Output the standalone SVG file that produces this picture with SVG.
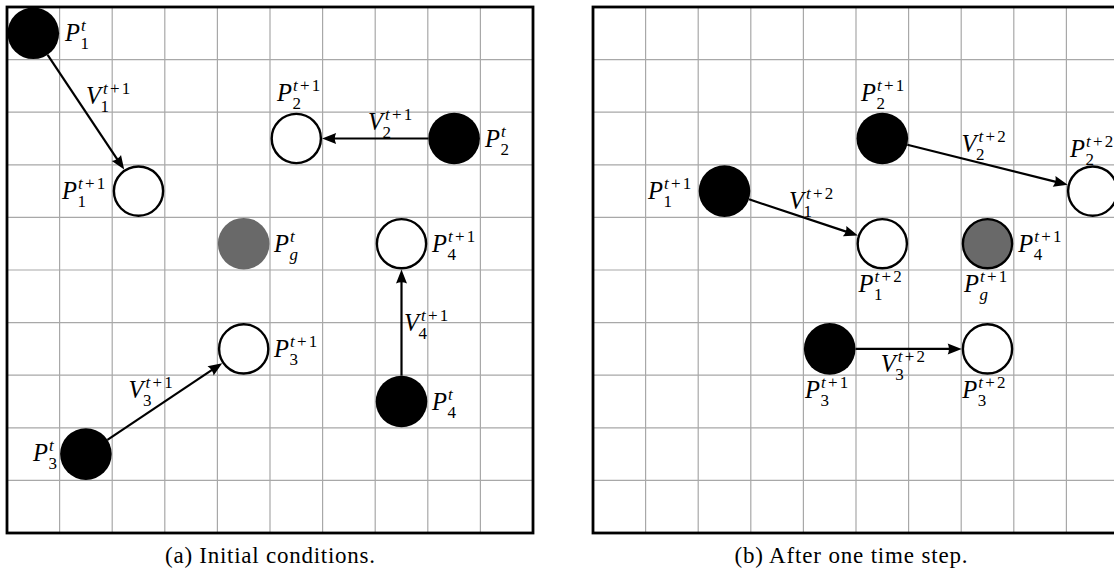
<svg xmlns="http://www.w3.org/2000/svg" width="1114" height="571" viewBox="0 0 1114 571">
<style>
.bg{fill:#fff}
.grid{fill:none;stroke:#a8a8a8;stroke-width:1.2}
.frame{fill:none;stroke:#000;stroke-width:2.8}
.cur{fill:#000}
.next{fill:#fff;stroke:#000;stroke-width:2.4}
.goal{fill:#696969}
.goal2{fill:#696969;stroke:#000;stroke-width:2.4}
.arr{fill:none;stroke:#000;stroke-width:2.2;marker-end:url(#ah)}
text{font-family:"Liberation Serif","Times New Roman",serif;fill:#000}
.m{font-size:24.5px;font-style:italic}
.s{font-size:17px}
.r{font-style:normal}
.cap{font-size:23px;font-style:normal;text-anchor:middle}
</style>
<defs>
<marker id="ah" markerUnits="userSpaceOnUse" markerWidth="16" markerHeight="12" viewBox="-15 -6 16 12" refX="-10" refY="0" orient="auto">
<path d="M0,0 L-14,-5.5 Q-11.5,0 -14,5.5 Z" fill="#000"/>
</marker>
</defs>
<rect class="bg" x="0" y="0" width="1114" height="571"/>
<g id="panel-a">
<path class="grid" d="M59.6,7V533M112.2,7V533M164.8,7V533M217.4,7V533M270,7V533M322.6,7V533M375.2,7V533M427.8,7V533M480.4,7V533M7,59.6H533M7,112.2H533M7,164.8H533M7,217.4H533M7,270H533M7,322.6H533M7,375.2H533M7,427.8H533M7,480.4H533"/>
<rect class="frame" x="7" y="7" width="526" height="526"/>
</g>
<g id="panel-b">
<path class="grid" d="M645.6,7V533M698.2,7V533M750.8,7V533M803.4,7V533M856,7V533M908.6,7V533M961.2,7V533M1013.8,7V533M1066.4,7V533M593,59.6H1119M593,112.2H1119M593,164.8H1119M593,217.4H1119M593,270H1119M593,322.6H1119M593,375.2H1119M593,427.8H1119M593,480.4H1119"/>
<rect class="frame" x="593" y="7" width="526" height="526"/>
</g>
<g id="connectors">
<line class="arr" x1="47.6" y1="54.8" x2="118.65" y2="161.3"/>
<line class="arr" x1="428.3" y1="138.5" x2="332.1" y2="138.5"/>
<line class="arr" x1="107.4" y1="439.8" x2="213.9" y2="368.7"/>
<line class="arr" x1="401.5" y1="375.7" x2="401.5" y2="279.5"/>
<line class="arr" x1="749" y1="199.3" x2="848.4" y2="232.4"/>
<line class="arr" x1="907.3" y1="144.8" x2="1058" y2="182.4"/>
<line class="arr" x1="855.5" y1="348.9" x2="951.7" y2="348.9"/>
</g>
<g id="a-P1t"><circle class="cur" cx="33.3" cy="33.3" r="25.8"/>
<text class="m"><tspan x="65" y="41.3">P</tspan><tspan class="s" x="81" y="31.3">t</tspan><tspan class="s r" x="80.5" y="49.3">1</tspan></text></g>
<g id="a-P1t1"><circle class="next" cx="138.5" cy="191.1" r="24.6"/>
<text class="m"><tspan x="62" y="199">P</tspan><tspan class="s" x="78" y="189">t<tspan class="r" dx="2.2">+</tspan><tspan class="r" dx="2.2">1</tspan></tspan><tspan class="s r" x="77.5" y="207">1</tspan></text></g>
<g id="a-V1"><text class="m"><tspan x="86" y="104">V</tspan><tspan class="s" x="103" y="94">t<tspan class="r" dx="2.2">+</tspan><tspan class="r" dx="2.2">1</tspan></tspan><tspan class="s r" x="100.5" y="112">1</tspan></text></g>
<g id="a-P2t1"><circle class="next" cx="296.3" cy="138.5" r="24.6"/>
<text class="m"><tspan x="277" y="100.5">P</tspan><tspan class="s" x="293" y="90.5">t<tspan class="r" dx="2.2">+</tspan><tspan class="r" dx="2.2">1</tspan></tspan><tspan class="s r" x="292.5" y="108.5">2</tspan></text></g>
<g id="a-V2"><text class="m"><tspan x="368" y="129.5">V</tspan><tspan class="s" x="385" y="119.5">t<tspan class="r" dx="2.2">+</tspan><tspan class="r" dx="2.2">1</tspan></tspan><tspan class="s r" x="382.5" y="137.5">2</tspan></text></g>
<g id="a-P2t"><circle class="cur" cx="454.1" cy="138.5" r="25.8"/>
<text class="m"><tspan x="485" y="146.5">P</tspan><tspan class="s" x="501" y="136.5">t</tspan><tspan class="s r" x="500.5" y="154.5">2</tspan></text></g>
<g id="a-Pgt"><circle class="goal" cx="243.7" cy="243.7" r="25.8"/>
<text class="m"><tspan x="274" y="251.7">P</tspan><tspan class="s" x="290" y="241.7">t</tspan><tspan class="s" x="289.5" y="259.7">g</tspan></text></g>
<g id="a-P4t1"><circle class="next" cx="401.5" cy="243.7" r="24.6"/>
<text class="m"><tspan x="432" y="251.7">P</tspan><tspan class="s" x="448" y="241.7">t<tspan class="r" dx="2.2">+</tspan><tspan class="r" dx="2.2">1</tspan></tspan><tspan class="s r" x="447.5" y="259.7">4</tspan></text></g>
<g id="a-V4"><text class="m"><tspan x="404" y="331">V</tspan><tspan class="s" x="421" y="321">t<tspan class="r" dx="2.2">+</tspan><tspan class="r" dx="2.2">1</tspan></tspan><tspan class="s r" x="418.5" y="339">4</tspan></text></g>
<g id="a-P3t1"><circle class="next" cx="243.7" cy="348.9" r="24.6"/>
<text class="m"><tspan x="274" y="357">P</tspan><tspan class="s" x="290" y="347">t<tspan class="r" dx="2.2">+</tspan><tspan class="r" dx="2.2">1</tspan></tspan><tspan class="s r" x="289.5" y="365">3</tspan></text></g>
<g id="a-P4t"><circle class="cur" cx="401.5" cy="401.5" r="25.8"/>
<text class="m"><tspan x="432" y="409.5">P</tspan><tspan class="s" x="448" y="399.5">t</tspan><tspan class="s r" x="447.5" y="417.5">4</tspan></text></g>
<g id="a-P3t"><circle class="cur" cx="85.9" cy="454.1" r="25.8"/>
<text class="m"><tspan x="33" y="461">P</tspan><tspan class="s" x="49" y="451">t</tspan><tspan class="s r" x="48.5" y="469">3</tspan></text></g>
<g id="a-V3"><text class="m"><tspan x="128.5" y="398">V</tspan><tspan class="s" x="145.5" y="388">t<tspan class="r" dx="2.2">+</tspan><tspan class="r" dx="2.2">1</tspan></tspan><tspan class="s r" x="143" y="406">3</tspan></text></g>
<g id="b-P1t1"><circle class="cur" cx="724.5" cy="191.1" r="25.8"/>
<text class="m"><tspan x="648" y="199">P</tspan><tspan class="s" x="664" y="189">t<tspan class="r" dx="2.2">+</tspan><tspan class="r" dx="2.2">1</tspan></tspan><tspan class="s r" x="663.5" y="207">1</tspan></text></g>
<g id="b-V1"><text class="m"><tspan x="789" y="208.5">V</tspan><tspan class="s" x="806" y="198.5">t<tspan class="r" dx="2.2">+</tspan><tspan class="r" dx="2.2">2</tspan></tspan><tspan class="s r" x="803.5" y="216.5">1</tspan></text></g>
<g id="b-P2t1"><circle class="cur" cx="882.3" cy="138.5" r="25.8"/>
<text class="m"><tspan x="861" y="101">P</tspan><tspan class="s" x="877" y="91">t<tspan class="r" dx="2.2">+</tspan><tspan class="r" dx="2.2">1</tspan></tspan><tspan class="s r" x="876.5" y="109">2</tspan></text></g>
<g id="b-V2"><text class="m"><tspan x="961.5" y="152">V</tspan><tspan class="s" x="978.5" y="142">t<tspan class="r" dx="2.2">+</tspan><tspan class="r" dx="2.2">2</tspan></tspan><tspan class="s r" x="976" y="160">2</tspan></text></g>
<g id="b-P2t2"><circle class="next" cx="1092.7" cy="191.1" r="24.6"/>
<text class="m"><tspan x="1070" y="156.5">P</tspan><tspan class="s" x="1086" y="146.5">t<tspan class="r" dx="2.2">+</tspan><tspan class="r" dx="2.2">2</tspan></tspan><tspan class="s r" x="1085.5" y="164.5">2</tspan></text></g>
<g id="b-P1t2"><circle class="next" cx="882.3" cy="243.7" r="24.6"/>
<text class="m"><tspan x="858.5" y="292">P</tspan><tspan class="s" x="874.5" y="282">t<tspan class="r" dx="2.2">+</tspan><tspan class="r" dx="2.2">2</tspan></tspan><tspan class="s r" x="874" y="300">1</tspan></text></g>
<g id="b-Pgt1"><circle class="goal2" cx="987.5" cy="243.7" r="24.6"/>
<text class="m"><tspan x="964" y="292">P</tspan><tspan class="s" x="980" y="282">t<tspan class="r" dx="2.2">+</tspan><tspan class="r" dx="2.2">1</tspan></tspan><tspan class="s" x="979.5" y="300">g</tspan></text>
<text class="m"><tspan x="1018.3" y="251.7">P</tspan><tspan class="s" x="1034.3" y="241.7">t<tspan class="r" dx="2.2">+</tspan><tspan class="r" dx="2.2">1</tspan></tspan><tspan class="s r" x="1033.8" y="259.7">4</tspan></text></g>
<g id="b-P3t1"><circle class="cur" cx="829.7" cy="348.9" r="25.8"/>
<text class="m"><tspan x="805" y="398">P</tspan><tspan class="s" x="821" y="388">t<tspan class="r" dx="2.2">+</tspan><tspan class="r" dx="2.2">1</tspan></tspan><tspan class="s r" x="820.5" y="406">3</tspan></text></g>
<g id="b-V3"><text class="m"><tspan x="880.7" y="372">V</tspan><tspan class="s" x="897.7" y="362">t<tspan class="r" dx="2.2">+</tspan><tspan class="r" dx="2.2">2</tspan></tspan><tspan class="s r" x="895.2" y="380">3</tspan></text></g>
<g id="b-P3t2"><circle class="next" cx="987.5" cy="348.9" r="24.6"/>
<text class="m"><tspan x="962.3" y="398">P</tspan><tspan class="s" x="978.3" y="388">t<tspan class="r" dx="2.2">+</tspan><tspan class="r" dx="2.2">2</tspan></tspan><tspan class="s r" x="977.8" y="406">3</tspan></text></g>
<g id="captions">
<text class="cap" x="270" y="563" textLength="210" lengthAdjust="spacing">(a) Initial conditions.</text>
<text class="cap" x="851" y="563" textLength="233" lengthAdjust="spacing">(b) After one time step.</text>
</g>
</svg>
